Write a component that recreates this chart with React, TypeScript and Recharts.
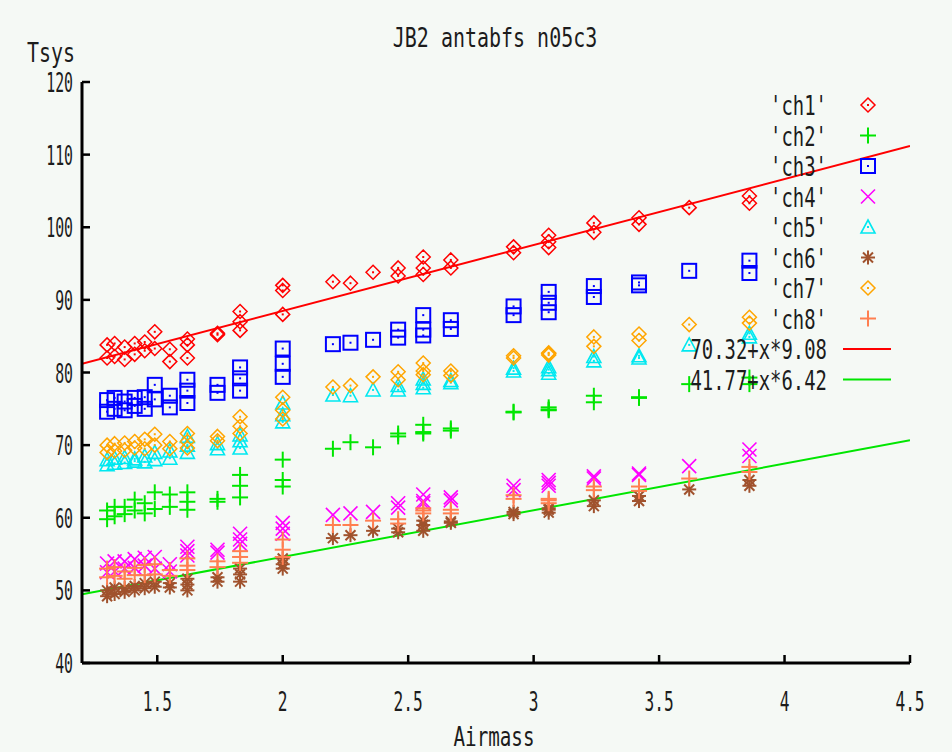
import React from "react";
import { ComposedChart, Scatter, Line, XAxis, YAxis } from "recharts";

// one entry per scan; the channel arrays below line up with it
const airmass = [
  1.3, 1.3, 1.33, 1.33, 1.37, 1.37, 1.41, 1.41, 1.45, 1.45, 1.49, 1.49,
  1.55, 1.55, 1.62, 1.62, 1.62, 1.74, 1.74, 1.83, 1.83, 1.83, 2.0, 2.0, 2.0,
  2.2, 2.27, 2.36, 2.46, 2.46, 2.56, 2.56, 2.56, 2.67, 2.67, 2.92, 2.92,
  3.06, 3.06, 3.06, 3.24, 3.24, 3.42, 3.42, 3.62, 3.86, 3.86,
];

const ch1 = [
  83.8, 82.0, 84.0, 82.2, 83.5, 81.8, 84.0, 82.5, 84.2, 83.0, 85.6, 83.3,
  83.2, 81.5, 84.6, 83.8, 82.0, 85.4, 85.2, 88.4, 87.0, 85.8, 92.0, 91.3, 88.0,
  92.5, 92.3, 93.8, 94.4, 93.3, 95.9, 94.4, 93.5, 95.5, 94.4, 97.3, 96.5,
  98.9, 98.0, 97.2, 100.6, 99.3, 101.3, 100.4, 102.7, 104.3, 103.3,
];
const ch2 = [
  61.0, 59.8, 61.5, 60.2, 61.5, 60.5, 62.5, 61.0, 62.0, 60.6, 63.5, 61.2,
  63.2, 61.5, 63.5, 62.2, 61.1, 62.6, 62.2, 65.9, 64.4, 62.8, 68.0, 65.2, 64.3,
  69.5, 70.4, 69.7, 71.6, 71.2, 72.8, 71.6, 71.8, 72.0, 72.3, 74.5, 74.6,
  74.9, 75.2, 74.8, 76.8, 75.9, 76.6, 76.5, 78.4, 79.3, 78.4,
];
const ch3 = [
  76.2, 74.6, 76.5, 75.0, 76.0, 74.8, 76.5, 75.4, 76.6, 75.0, 78.3, 76.3,
  76.8, 75.2, 79.0, 77.5, 75.8, 78.3, 77.2, 80.7, 79.2, 77.5, 83.3, 81.2, 79.4,
  83.9, 84.1, 84.5, 85.9, 84.8, 87.9, 85.9, 85.1, 87.2, 86.0, 89.1, 87.9,
  91.1, 89.6, 88.3, 91.9, 90.4, 92.0, 92.4, 94.0, 95.4, 93.7,
];
const ch4 = [
  53.7, 52.5, 54.0, 52.6, 54.0, 53.0, 54.3, 53.1, 54.5, 53.4, 54.6, 53.0,
  53.6, 52.6, 56.0, 55.4, 54.8, 55.6, 55.2, 57.8, 57.0, 56.4, 59.3, 58.5, 57.8,
  60.4, 60.6, 60.8, 62.0, 61.4, 63.2, 62.3, 62.0, 62.8, 62.4, 64.4, 63.8,
  65.2, 64.4, 64.8, 65.7, 65.4, 66.1, 65.9, 67.1, 69.4, 68.5,
];
const ch5 = [
  68.0, 67.3, 68.2, 67.5, 68.3, 67.6, 68.1, 67.8, 68.5, 67.7, 69.0, 68.0,
  69.2, 68.2, 71.2, 70.0, 69.0, 70.2, 69.5, 71.4, 70.6, 69.6, 75.8, 74.2, 73.2,
  76.9, 76.8, 77.6, 78.2, 77.6, 79.1, 77.9, 78.5, 78.6, 78.9, 80.2, 80.6,
  80.8, 79.9, 80.4, 82.2, 81.6, 82.3, 82.0, 83.8, 85.4, 84.9,
];
const ch6 = [
  50.0, 49.2, 50.4, 49.5, 50.3, 49.8, 50.6, 50.0, 51.0, 50.3, 51.2, 50.5,
  51.0, 50.4, 51.6, 50.8, 50.0, 51.8, 51.2, 53.0, 52.2, 51.2, 54.4, 53.6, 53.0,
  57.2, 57.6, 58.2, 58.5, 58.0, 59.6, 58.2, 59.0, 59.3, 59.5, 60.5, 60.8,
  61.1, 60.7, 61.3, 62.4, 61.6, 63.0, 62.3, 63.9, 65.2, 64.4,
];
const ch7 = [
  70.0, 69.0, 70.2, 69.2, 70.3, 69.3, 70.5, 69.6, 70.8, 69.5, 71.5, 70.0,
  70.5, 69.5, 71.6, 70.5, 69.6, 71.2, 70.6, 73.9, 72.6, 71.6, 76.6, 74.8, 73.6,
  78.0, 78.2, 79.4, 80.1, 79.0, 81.3, 79.7, 80.2, 80.2, 79.6, 82.3, 82.0,
  82.7, 82.4, 82.6, 84.9, 83.6, 85.3, 84.4, 86.6, 87.6, 86.8,
];
const ch8 = [
  53.0, 51.8, 53.2, 52.0, 52.6, 51.6, 53.1, 52.1, 53.5, 52.1, 53.6, 52.2,
  52.8, 52.0, 54.4, 53.4, 52.8, 54.0, 53.2, 55.4, 54.6, 53.8, 57.0, 55.6, 54.6,
  59.0, 59.0, 59.6, 59.8, 59.2, 61.3, 60.6, 61.0, 61.1, 60.6, 63.1, 62.6,
  62.4, 62.0, 62.6, 64.3, 63.8, 64.3, 63.7, 65.4, 67.0, 66.3,
];

// fitted lines: Tsys = a + x*b
const fitHot = { a: 70.32, b: 9.08 };
const fitCold = { a: 41.77, b: 6.42 };
const fitSpan = [1.2, 4.5];

const xTicks = [1.5, 2, 2.5, 3, 3.5, 4, 4.5];
const yTicks = [40, 50, 60, 70, 80, 90, 100, 110, 120];

type Kind = "diamond" | "plus" | "square" | "cross" | "triangle" | "star";

const channels: { name: string; values: number[]; color: string; kind: Kind }[] = [
  { name: "'ch1'", values: ch1, color: "#ff0000", kind: "diamond" },
  { name: "'ch2'", values: ch2, color: "#00e600", kind: "plus" },
  { name: "'ch3'", values: ch3, color: "#0000ff", kind: "square" },
  { name: "'ch4'", values: ch4, color: "#ff00ff", kind: "cross" },
  { name: "'ch5'", values: ch5, color: "#00e8f0", kind: "triangle" },
  { name: "'ch6'", values: ch6, color: "#a0522d", kind: "star" },
  { name: "'ch7'", values: ch7, color: "#ffa500", kind: "diamond" },
  { name: "'ch8'", values: ch8, color: "#ff7f50", kind: "plus" },
];

const fits = [
  { name: "70.32+x*9.08", fit: fitHot, color: "#ff0000" },
  { name: "41.77+x*6.42", fit: fitCold, color: "#00e600" },
];

const FONT = "'DejaVu Sans Mono', monospace";
const INK = "#1c1c1c";

const Marker = ({ kind, cx, cy, color }: { kind: Kind; cx: number; cy: number; color: string }) => {
  const s = 7;
  const dot = <rect x={cx - 1} y={cy - 1} width={2} height={2} fill={color} />;
  switch (kind) {
    case "diamond":
      return (
        <g>
          <polygon
            points={`${cx},${cy - s} ${cx + s},${cy} ${cx},${cy + s} ${cx - s},${cy}`}
            fill="none"
            stroke={color}
            strokeWidth={1.5}
          />
          {dot}
        </g>
      );
    case "plus":
      return (
        <g stroke={color} strokeWidth={2}>
          <line x1={cx - s - 1} y1={cy} x2={cx + s + 1} y2={cy} />
          <line x1={cx} y1={cy - s - 1} x2={cx} y2={cy + s + 1} />
        </g>
      );
    case "square":
      return (
        <g>
          <rect x={cx - s} y={cy - s} width={2 * s} height={2 * s} fill="none" stroke={color} strokeWidth={2} />
          {dot}
        </g>
      );
    case "cross":
      return (
        <g stroke={color} strokeWidth={1.6}>
          <line x1={cx - s} y1={cy - s} x2={cx + s} y2={cy + s} />
          <line x1={cx - s} y1={cy + s} x2={cx + s} y2={cy - s} />
        </g>
      );
    case "triangle":
      return (
        <g>
          <polygon
            points={`${cx},${cy - s} ${cx + s},${cy + s - 1} ${cx - s},${cy + s - 1}`}
            fill="none"
            stroke={color}
            strokeWidth={1.6}
          />
          {dot}
        </g>
      );
    case "star":
      return (
        <g stroke={color} strokeWidth={2}>
          <line x1={cx - s} y1={cy} x2={cx + s} y2={cy} />
          <line x1={cx} y1={cy - s} x2={cx} y2={cy + s} />
          <line x1={cx - 5} y1={cy - 5} x2={cx + 5} y2={cy + 5} />
          <line x1={cx - 5} y1={cy + 5} x2={cx + 5} y2={cy - 5} />
        </g>
      );
  }
  return null;
};

const XTick = ({ x, y, payload }: any) => (
  <text
    transform={`translate(${x},${y}) scale(0.6,1)`}
    textAnchor="middle"
    fontFamily={FONT}
    fontSize={27}
    fill={INK}
  >
    {payload.value}
  </text>
);

const YTick = ({ x, y, payload }: any) => (
  <text
    transform={`translate(${x},${y + 10}) scale(0.55,1)`}
    textAnchor="end"
    fontFamily={FONT}
    fontSize={27}
    fill={INK}
  >
    {payload.value}
  </text>
);

const axisLine = { stroke: "#000", strokeWidth: 3 };
const tickLine = { stroke: "#000", strokeWidth: 2.5 };

// key drawn in the upper right corner of the plot
const Key = () => {
  const rowY = (i: number) => 105 + i * 30.5;
  const textAt = (label: string, y: number) => (
    <text
      transform={`translate(827,${y + 10}) scale(0.7,1)`}
      textAnchor="end"
      fontFamily={FONT}
      fontSize={27}
      fill={INK}
    >
      {label}
    </text>
  );
  return (
    <svg width={952} height={752} style={{ position: "absolute", left: 0, top: 0, pointerEvents: "none" }}>
      {channels.map((c, i) => (
        <g key={c.name}>
          {textAt(c.name, rowY(i))}
          <Marker kind={c.kind} cx={868} cy={rowY(i)} color={c.color} />
        </g>
      ))}
      {fits.map((f, i) => (
        <g key={f.name}>
          {textAt(f.name, rowY(channels.length + i))}
          <line x1={843} x2={891} y1={rowY(channels.length + i)} y2={rowY(channels.length + i)} stroke={f.color} strokeWidth={2} />
        </g>
      ))}
      <text transform="translate(495,47) scale(0.74,1)" textAnchor="middle" fontFamily={FONT} fontSize={27} fill={INK}>
        JB2 antabfs n05c3
      </text>
      <text transform="translate(27,62) scale(0.74,1)" fontFamily={FONT} fontSize={27} fill={INK}>
        Tsys
      </text>
      <text transform="translate(494,746) scale(0.74,1)" textAnchor="middle" fontFamily={FONT} fontSize={26} fill={INK}>
        Airmass
      </text>
    </svg>
  );
};

export default function App() {
  return (
    <div style={{ position: "absolute", left: 0, top: 0, width: 952, height: 752, background: "#f5f9f5", overflow: "hidden" }}>
      <ComposedChart width={952} height={752} margin={{ top: 82, right: 42, bottom: 0, left: 0 }}>
        <XAxis
          type="number"
          dataKey="x"
          domain={[1.2, 4.5]}
          ticks={xTicks}
          allowDataOverflow
          height={89}
          axisLine={axisLine}
          tickLine={tickLine}
          tickSize={-8}
          tickMargin={56}
          tick={<XTick />}
        />
        <XAxis
          xAxisId="top"
          orientation="top"
          type="number"
          domain={[1.2, 4.5]}
          ticks={xTicks}
          allowDataOverflow
          height={0}
          axisLine={axisLine}
          tickLine={tickLine}
          tickSize={-8}
          tick={false}
        />
        <YAxis
          type="number"
          dataKey="y"
          domain={[40, 120]}
          ticks={yTicks}
          allowDataOverflow
          width={82}
          axisLine={axisLine}
          tickLine={tickLine}
          tickSize={-8}
          tickMargin={17}
          tick={<YTick />}
        />
        <YAxis
          yAxisId="right"
          orientation="right"
          type="number"
          domain={[40, 120]}
          ticks={yTicks}
          allowDataOverflow
          width={0}
          axisLine={axisLine}
          tickLine={tickLine}
          tickSize={-8}
          tick={false}
        />
        {channels.map((c) => (
          <Scatter
            key={c.name}
            name={c.name}
            data={airmass.map((x, i) => ({ x, y: c.values[i] }))}
            isAnimationActive={false}
            shape={(p: any) => <Marker kind={c.kind} cx={p.cx} cy={p.cy} color={c.color} />}
          />
        ))}
        {fits.map((f) => (
          <Line
            key={f.name}
            data={fitSpan.map((x) => ({ x, y: f.fit.a + x * f.fit.b }))}
            dataKey="y"
            stroke={f.color}
            strokeWidth={2}
            dot={false}
            activeDot={false}
            isAnimationActive={false}
          />
        ))}
      </ComposedChart>
      <Key />
    </div>
  );
}
